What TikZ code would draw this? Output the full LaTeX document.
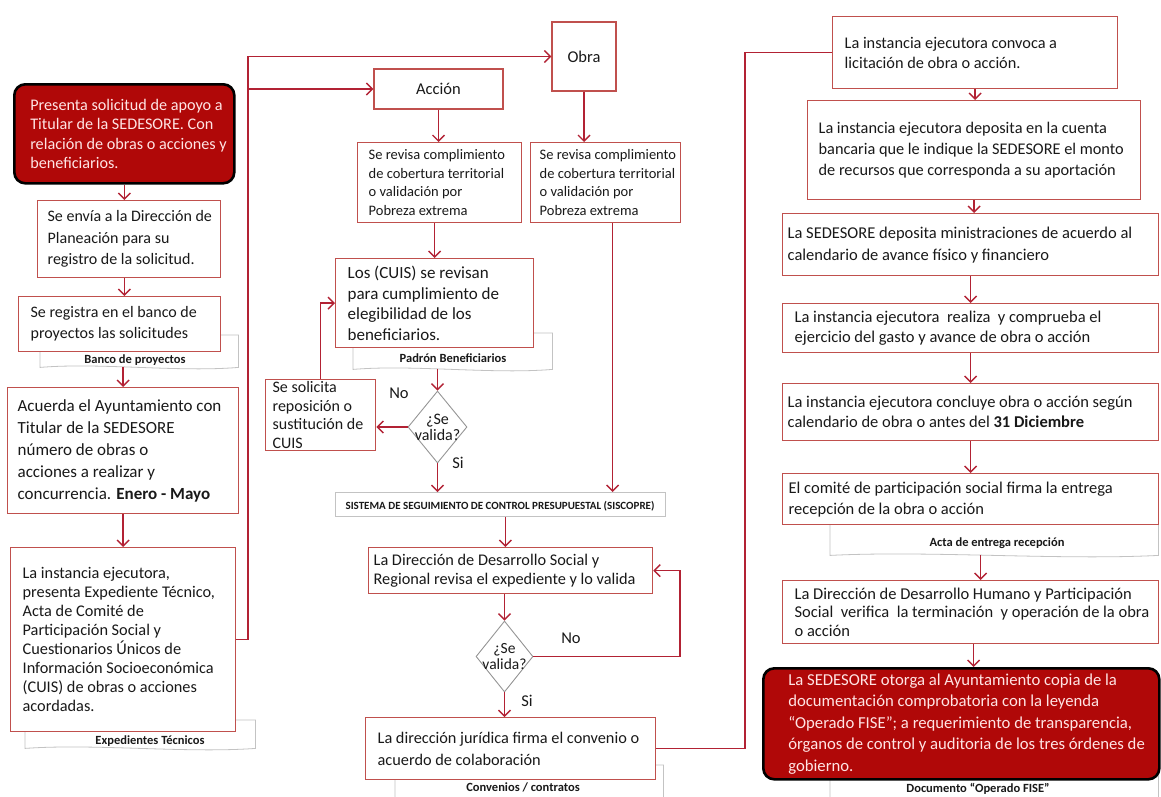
\documentclass[tikz,border=0pt]{standalone}
\usepackage{fontspec}
\setmainfont{Carlito}
\usetikzlibrary{arrows.meta,shapes.geometric,calc}
\definecolor{bord}{RGB}{192,80,77}
\definecolor{arrc}{RGB}{178,34,52}
\definecolor{rfill}{RGB}{176,8,8}
\definecolor{rtext}{RGB}{255,228,228}
\definecolor{docg}{RGB}{195,195,195}
\definecolor{diag}{RGB}{150,150,150}
\definecolor{txt}{RGB}{25,25,25}
\newcommand\fs[2]{\fontsize{#1}{#2}\selectfont}
\newcommand\docpath[1]{\draw[docline] (#1.north west) -- (#1.north east) -- (#1.south east) .. controls ($(#1.south east)!0.3!(#1.south west)+(0,5)$) and ($(#1.south east)!0.7!(#1.south west)+(0,-5)$) .. (#1.south west) -- cycle;}
\begin{document}
\begin{tikzpicture}[x=1pt,y=-1pt,
 box/.style={draw=bord, line width=1.3pt, fill=white, anchor=north west, align=flush left, inner xsep=8pt, inner ysep=2pt, text=txt},
 mg/.style 2 args={inner xsep=#2pt, execute at begin node={\leftskip=\dimexpr #1pt-#2pt\relax}},
 cbox/.style={draw=bord, line width=1.3pt, fill=white, align=center, inner sep=2pt, text=txt},
 redbox/.style={draw=black, line width=2.6pt, fill=rfill, rounded corners=11pt, anchor=north west, align=flush left, inner ysep=2pt, text=rtext},
 docbox/.style={anchor=north west, inner sep=0pt, draw=none},
 docline/.style={draw=docg, line width=0.8pt, fill=white},
 doclab/.style={font=\bfseries\fs{12.5}{14}, text=txt, inner sep=0pt},
 arr/.style={draw=arrc, line width=1.4pt, -{Straight Barb[length=6pt,width=12pt]}},
 ln/.style={draw=arrc, line width=1.4pt},
 dec/.style={diamond, draw=diag, line width=0.9pt, fill=white, inner sep=0pt},
 dectext/.style={font=\fs{16}{16}, text=txt, align=center, inner sep=0pt},
 yn/.style={font=\fs{16.5}{18}, text=txt, inner sep=0pt}
]
\fill[white] (0,0) rectangle (1161,796);
\path[use as bounding box] (0,0) rectangle (1161,796);

% ---------- document shapes (behind) ----------
\node[docbox, minimum width=198pt, minimum height=32pt] (d1) at (40,335) {};
\node[docbox, minimum width=230pt, minimum height=28pt] (d5) at (25,720) {};
\node[docbox, minimum width=199pt, minimum height=36pt] (dcuis) at (353,333) {};
\node[docbox, minimum width=268pt, minimum height=36pt] (djur) at (395,765) {};
\node[docbox, minimum width=328pt, minimum height=40pt] (dc6) at (830,515) {};
\node[docbox, minimum width=328pt, minimum height=32pt] (dred) at (830,770) {};
\docpath{d1}
\docpath{d5}
\docpath{dcuis}
\docpath{djur}
\docpath{dc6}
\docpath{dred}
\node[docbox, minimum width=330pt, minimum height=24pt, draw=docg, line width=0.8pt, fill=white] (sis) at (335,492) {};

% ---------- left column ----------
\node[redbox, mg={16}{5}, text width=210pt, minimum height=99pt, font=\fs{16.2}{19.5}] (red1) at (13,83)
 {Presenta solicitud de apoyo a\\Titular de la SEDESORE. Con\\relación de obras o acciones y\\beneficiarios.};
\node[box, mg={10}{6}, text width=171pt, minimum height=77pt, font=\fs{16}{21.5}] (b2) at (37,200)
 {Se envía a la Dirección de\\Planeación para su\\registro de la solicitud.};
\node[box, mg={12}{8}, text width=186pt, minimum height=55pt, font=\fs{16}{21}] (b3) at (18,296)
 {Se registra en el banco de\\proyectos las solicitudes};
\node[box, mg={10}{8}, text width=215pt, minimum height=126pt, font=\fs{17}{22}] (b4) at (7,387)
 {Acuerda el Ayuntamiento con\\Titular de la SEDESORE\\número de obras o\\acciones a realizar y\\concurrencia. \textbf{Enero - Mayo}};
\node[box, mg={12}{8}, text width=209pt, minimum height=184pt, font=\fs{16.3}{19}] (b5) at (10,547)
 {La instancia ejecutora,\\presenta Expediente Técnico,\\Acta de Comité de\\Participación Social y\\Cuestionarios Únicos de\\Información Socioeconómica\\(CUIS) de obras o acciones\\acordadas.};

% ---------- middle column ----------
\node[cbox, minimum width=64pt, minimum height=69pt, font=\fs{16.5}{19}] (obra) at (584,56.5) {Obra};
\node[cbox, minimum width=129pt, minimum height=40pt, font=\fs{16.5}{19}] (accion) at (438.5,89) {Acción};
\node[box, mg={11}{6}, text width=152pt, minimum height=80pt, font=\fs{14.5}{18.5}] (rev1) at (357,142)
 {Se revisa complimiento\\de cobertura territorial\\o validación por\\Pobreza extrema};
\node[box, mg={9}{3}, text width=144pt, minimum height=80pt, font=\fs{14.5}{18.5}] (rev2) at (530,142)
 {Se revisa complimiento\\de cobertura territorial\\o validación por\\Pobreza extrema};
\node[box, mg={12}{8}, text width=182pt, minimum height=89pt, font=\fs{17}{20.5}] (cuis) at (335,258)
 {Los (CUIS) se revisan\\para cumplimiento de\\elegibilidad de los\\beneficiarios.};
\node[box, mg={7}{5}, text width=100pt, minimum height=71pt, font=\fs{16}{18.5}] (solic) at (265,379)
 {Se solicita\\reposición o\\sustitución de\\CUIS};
\node[dec, minimum width=59pt, minimum height=72pt] (q1) at (437.5,427) {};
\node[dectext] (q1t) at (q1) {¿Se\\valida?};
\node[yn] (no1) at (399,393) {No};
\node[yn] (si1) at (458,463) {Si};
\node[font=\bfseries\fs{11}{13}, text=txt, inner sep=0pt] (sist) at (500,506) {SISTEMA DE SEGUIMIENTO DE CONTROL PRESUPUESTAL (SISCOPRE)};
\node[box, mg={5}{5}, text width=274pt, minimum height=46pt, font=\fs{16.3}{19}] (dss) at (368,547)
 {La Dirección de Desarrollo Social y\\Regional revisa el expediente y lo valida};
\node[dec, minimum width=57pt, minimum height=71pt] (q2) at (504.5,656.5) {};
\node[dectext, font=\fs{15.5}{16}] (q2t) at (q2) {¿Se\\valida?};
\node[yn] (no2) at (571,638) {No};
\node[yn] (si2) at (527,701) {Si};
\node[box, mg={12}{8}, text width=274pt, minimum height=62pt, font=\fs{16.3}{22}] (jur) at (365,717)
 {La dirección jurídica firma el convenio o\\acuerdo de colaboración};

% ---------- right column ----------
\node[box, mg={12}{8}, text width=269pt, minimum height=72pt, font=\fs{16.3}{20}] (c1) at (832,16)
 {La instancia ejecutora convoca a\\licitación de obra o acción.};
\node[box, mg={11}{8}, text width=317pt, minimum height=99pt, font=\fs{16.3}{21}] (c2) at (807,100)
 {La instancia ejecutora deposita en la cuenta\\bancaria que le indique la SEDESORE el monto\\de recursos que corresponda a su aportación};
\node[box, mg={5}{5}, text width=366pt, minimum height=62pt, font=\fs{16.5}{22}] (c3) at (782,213)
 {La SEDESORE deposita ministraciones de acuerdo al\\calendario de avance físico y financiero};
\node[box, mg={12}{5}, text width=366pt, minimum height=49pt, font=\fs{16.5}{20}] (c4) at (782,303)
 {La instancia ejecutora\ \ realiza\ \ y comprueba el\\ejercicio del gasto y avance de obra o acción};
\node[box, mg={5}{5}, text width=366pt, minimum height=57pt, font=\fs{16.5}{20}] (c5) at (782,383)
 {La instancia ejecutora concluye obra o acción según\\calendario de obra o antes del \textbf{31 Diciembre}};
\node[box, mg={6}{5}, text width=366pt, minimum height=51pt, font=\fs{16.5}{21}] (c6) at (782,473)
 {El comité de participación social firma la entrega\\recepción de la obra o acción};
\node[box, mg={12}{5}, text width=366pt, minimum height=63pt, font=\fs{16.5}{18.5}] (c7) at (782,580)
 {La Dirección de Desarrollo Humano y Participación\\Social\ \ verifica\ \ la terminación\ \ y operación de la obra\\o acción};
\node[redbox, mg={25}{7}, text width=382pt, minimum height=111pt, font=\fs{16.7}{21.5}] (red2) at (762,667)
 {La SEDESORE otorga al Ayuntamiento copia de la\\documentación comprobatoria con la leyenda\\“Operado FISE”; a requerimiento de transparencia,\\órganos de control y auditoria de los tres órdenes de\\gobierno.};

% ---------- document labels ----------
\node[doclab] (d1t) at (135,360) {Banco de proyectos};
\node[doclab] (d5t) at (150,741) {Expedientes Técnicos};
\node[doclab] (dcuist) at (453,358) {Padrón Beneficiarios};
\node[doclab] (djurt) at (523,787) {Convenios / contratos};
\node[doclab] (dc6t) at (997,543) {Acta de entrega recepción};
\node[doclab] (dredt) at (978,789) {Documento “Operado FISE”};

% ---------- connectors ----------
\coordinate (j1) at (248,0);
\coordinate (k2) at (680,0);
\coordinate (m1) at (745,0);
\draw[arr] (red1.south) -- (red1.south |- b2.north);
\draw[arr] (red1.south |- b2.south) -- (red1.south |- b3.north);
\draw[arr] (b4.north |- d1.south) -- (b4.north);
\draw[arr] (b4.south) -- (b4.south |- b5.north);
\draw[arr] (b5.east) -- (j1 |- b5.east) -- (j1 |- obra.west) -- (obra.west);
\draw[arr] (j1 |- accion.west) -- (accion.west);
\draw[arr] (accion.south) -- (accion.south |- rev1.north);
\draw[arr] (obra.south) -- (obra.south |- rev2.north);
\draw[arr] (cuis.north |- rev1.south) -- (cuis.north);
\draw[arr] (q1.north |- dcuis.south) -- (q1.north);
\draw[arr] (q1.west) -- (q1.west -| solic.east);
\draw[arr] (solic.north) |- (cuis.west);
\draw[arr] (q1.south) -- (q1.south |- sis.north);
\draw[arr] ([xshift=7pt]rev2.south) -- ([xshift=7pt]rev2.south |- sis.north);
\draw[arr] ([xshift=5pt]sis.south) -- ([xshift=5pt]sis.south |- dss.north);
\draw[arr] (q2.north |- dss.south) -- (q2.north);
\draw[arr] (q2.east) -- (k2 |- q2.east) -- (k2 |- dss.east) -- (dss.east);
\draw[arr] (q2.south) -- (q2.south |- jur.north);
\draw[ln] (jur.east) -- (m1 |- jur.east) -- (m1 |- c1.west) -- (c1.west);
\draw[arr] (c1.south) -- (c1.south |- c2.north);
\draw[arr] (c2.south) -- (c2.south |- c3.north);
\draw[arr] (c3.south) -- (c3.south |- c4.north);
\draw[arr] (c4.south) -- (c4.south |- c5.north);
\draw[arr] (c5.south) -- (c5.south |- c6.north);
\draw[arr] ([xshift=10pt]c6.south |- dc6.south) -- ([xshift=10pt]c6.south |- c7.north);
\draw[arr] ([xshift=3pt]c7.south) -- ([xshift=3pt]c7.south |- red2.north);
\end{tikzpicture}
\end{document}
